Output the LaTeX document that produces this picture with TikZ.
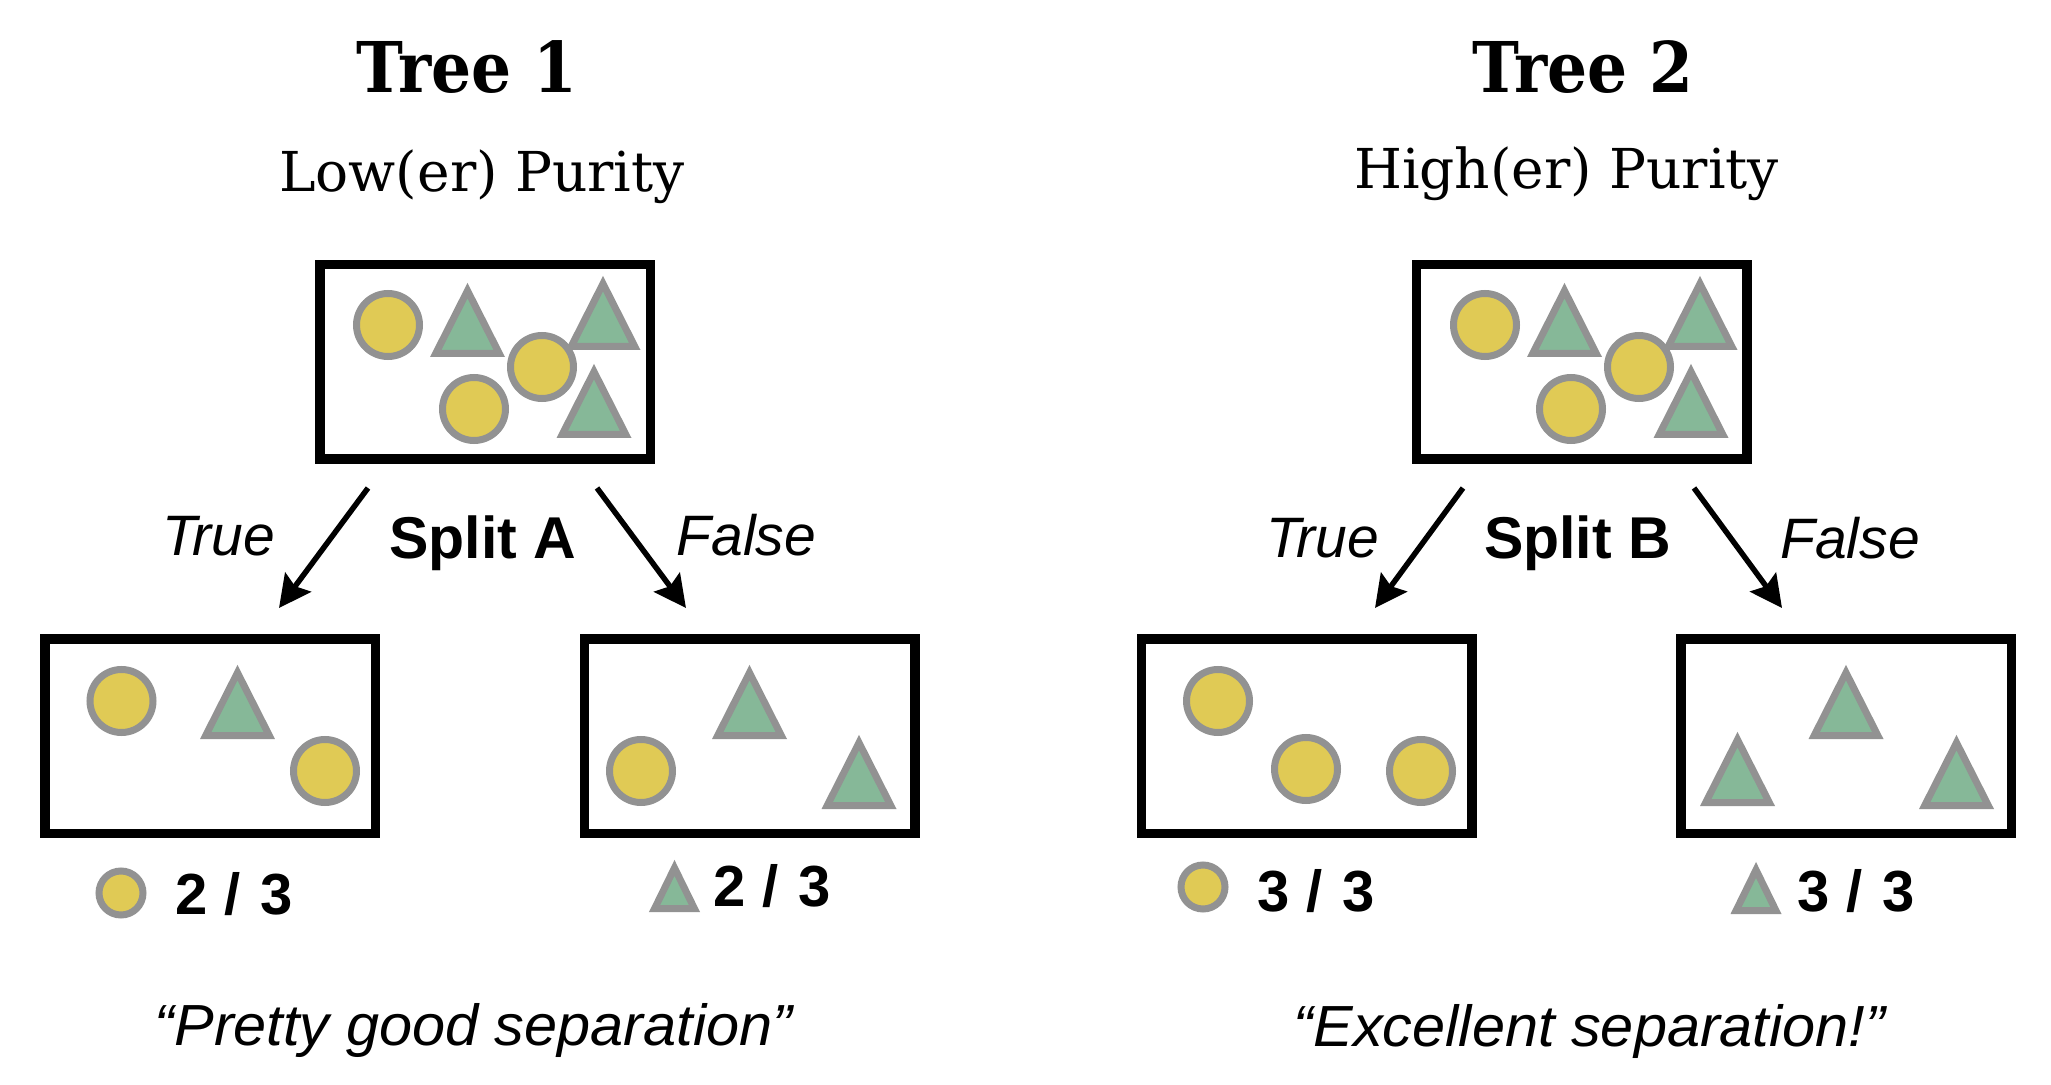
\documentclass[tikz,border=0pt]{standalone}
\usepackage{fontspec}
\setmainfont{DejaVu Serif}
\newfontfamily\titlefont[FakeStretch=0.9]{DejaVu Serif}
\newfontfamily\sansfont{Liberation Sans}
\newfontfamily\quotefont[FakeStretch=1.025]{Liberation Sans}
\usetikzlibrary{arrows.meta}
\definecolor{cyel}{RGB}{224,202,85}
\definecolor{cgrn}{RGB}{134,184,152}
\definecolor{cgry}{RGB}{146,146,146}
\newcommand{\myratio}[2]{#1 \hspace{0.5pt}/ \hspace{2pt}#2}
\tikzset{
  box/.style={draw=black, line width=4.75pt, minimum width=165.25pt, minimum height=97.25pt, inner sep=0pt},
  ball/.style={fill=cyel, draw=cgry, line width=3.5pt},
  tri/.style={fill=cgrn, draw=cgry, line width=3.5pt, line join=miter, miter limit=10},
  arr/.style={line width=2.75pt, -{Stealth[length=16pt,width=16pt,inset=2.5pt]}},
  ttl/.style={font=\titlefont\bfseries\fontsize{35pt}{35pt}\selectfont, anchor=base, inner sep=0pt},
  sub/.style={font=\fontsize{27.5pt}{27.5pt}\selectfont, anchor=base, inner sep=0pt},
  lbl/.style={font=\sansfont\itshape\fontsize{28.5pt}{28.5pt}\selectfont, anchor=base, inner sep=0pt},
  spl/.style={font=\sansfont\bfseries\fontsize{29.5pt}{29.5pt}\selectfont, anchor=base, inner sep=0pt},
  cnt/.style={font=\sansfont\bfseries\fontsize{29pt}{29pt}\selectfont, anchor=base west, inner sep=0pt},
  quo/.style={font=\quotefont\itshape\fontsize{29pt}{29pt}\selectfont, anchor=base, inner sep=0pt},
  pics/bigtri/.style={code={\draw[tri] (0,-66.3) -- (-31.8,-3.5) -- (31.8,-3.5) -- cycle;}},
  pics/smalltri/.style={code={\draw[tri] (0,-44.1) -- (-19.9,-3.5) -- (19.9,-3.5) -- cycle;}},
}
\begin{document}
\begin{tikzpicture}[x=0.5pt,y=-0.5pt]
\fill[white] (0,0) rectangle (2051,1085);
\useasboundingbox (0,0) rectangle (2051,1085);

% ---------- Tree 1 ----------
\node[ttl] (title1) at (467,93) {Tree 1};
\node[sub] (sub1) at (482,192) {Low(er) Purity};
\node[box] (root1) at (485,362) {};
\node[box] (left1) at (210,736) {};
\node[box] (right1) at (749.5,736) {};

\draw[ball] (388,325) circle (31.5);
\pic at (467.5,357) {bigtri};
\pic at (603,350) {bigtri};
\draw[ball] (542,367) circle (31.5);
\draw[ball] (474,409) circle (31.5);
\pic at (594,438) {bigtri};

\draw[ball] (121.5,701) circle (31.5);
\pic at (237.5,739) {bigtri};
\draw[ball] (325,771) circle (31.5);

\pic at (749.5,739) {bigtri};
\draw[ball] (641,771) circle (31.5);
\pic at (859,809) {bigtri};

\coordinate (a1s) at (368,488);
\coordinate (a1e) at (279,608);
\coordinate (a2s) at (597,488);
\coordinate (a2e) at (686,608);
\draw[arr] (a1s) -- (a1e);
\draw[arr] (a2s) -- (a2e);
\node[lbl] (true1) at (218.5,555) {True};
\node[spl] (split1) at (483,559) {Split A};
\node[lbl] (false1) at (746.5,555) {False};

\draw[ball] (121,893) circle (22);
\node[cnt] (c1) at (175,914) {\myratio{2}{3}};
\pic at (674.5,912) {smalltri};
\node[cnt] (c2) at (713,906) {\myratio{2}{3}};

\node[quo] (q1) at (473.5,1045) {“Pretty good separation”};

% ---------- Tree 2 ----------
\node[ttl] (title2) at (1583,93) {Tree 2};
\node[sub] (sub2) at (1566.5,189) {High(er) Purity};
\node[box] (root2) at (1581.5,362) {};
\node[box] (left2) at (1306.5,736) {};
\node[box] (right2) at (1846,736) {};

\draw[ball] (1485,325) circle (31.5);
\pic at (1564.5,357) {bigtri};
\pic at (1700,350) {bigtri};
\draw[ball] (1639,367) circle (31.5);
\draw[ball] (1571,409) circle (31.5);
\pic at (1691,438) {bigtri};

\draw[ball] (1218,701) circle (31.5);
\draw[ball] (1306,769) circle (31.5);
\draw[ball] (1421,771) circle (31.5);

\pic at (1846,739) {bigtri};
\pic at (1737.5,806) {bigtri};
\pic at (1956.5,809) {bigtri};

\coordinate (b1s) at (1463,488);
\coordinate (b1e) at (1375,608);
\coordinate (b2s) at (1694,488);
\coordinate (b2e) at (1782,608);
\draw[arr] (b1s) -- (b1e);
\draw[arr] (b2s) -- (b2e);
\node[lbl] (true2) at (1322.5,558) {True};
\node[spl] (split2) at (1577.5,559) {Split B};
\node[lbl] (false2) at (1850,559) {False};

\draw[ball] (1203,887) circle (22);
\node[cnt] (c3) at (1257,911) {\myratio{3}{3}};
\pic at (1756,914) {smalltri};
\node[cnt] (c4) at (1797,911) {\myratio{3}{3}};

\node[quo] (q2) at (1589.5,1046) {“Excellent separation!”};
\end{tikzpicture}
\end{document}
